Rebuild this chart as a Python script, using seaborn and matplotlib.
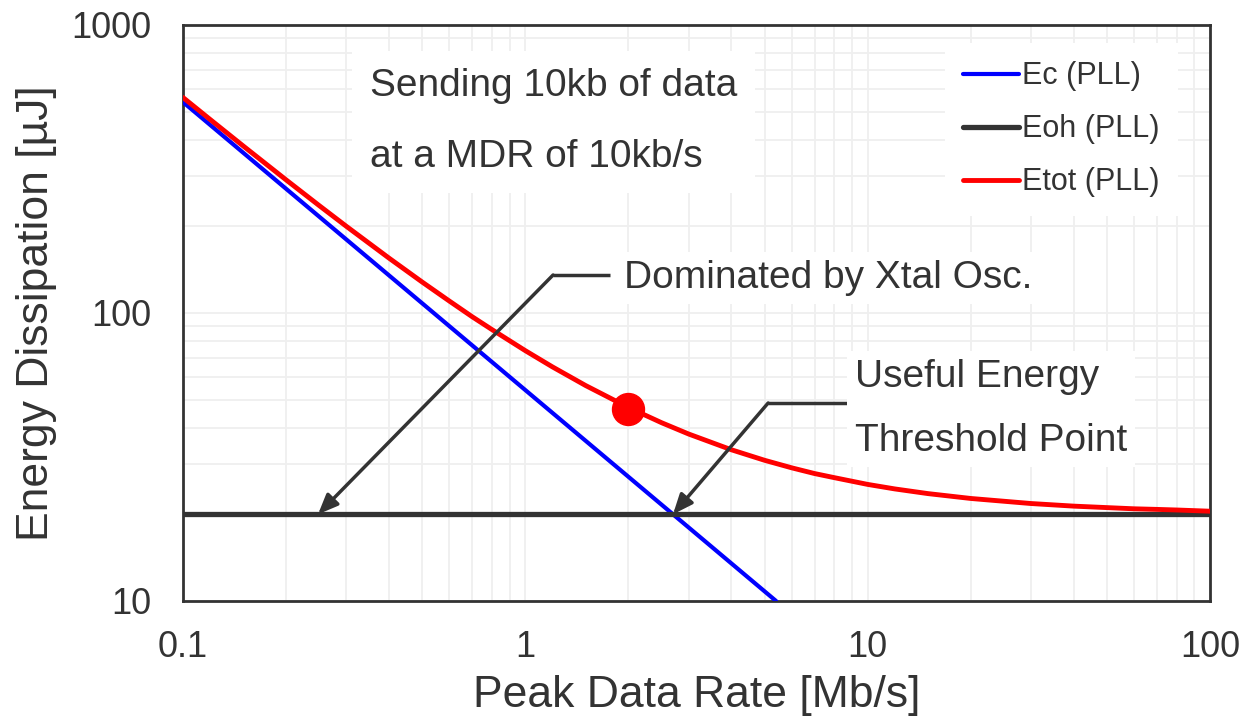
import matplotlib
matplotlib.use("Agg")
import matplotlib.pyplot as plt
import seaborn as sns
import pandas as pd

# Data
ec_x = [0.1, 5.4]
ec_y = [540, 10]
eoh_x = [0.1, 100]
eoh_y = [20, 20]
etot_x = [0.1, 0.12, 0.15, 0.2, 0.25, 0.3, 0.4, 0.5, 0.6, 0.7, 0.8, 1, 1.2, 1.5, 2, 2.5, 3, 4,
          5, 6, 7, 8, 10, 12, 15, 20, 25, 30, 40, 50, 60, 70, 80, 100]
etot_y = [560, 470, 380, 290, 236, 200, 155, 128, 110, 97, 87.5, 74, 65, 56, 47, 41.6, 38, 33.5,
          30.8, 29, 27.7, 26.8, 25.4, 24.5, 23.6, 22.7, 22.2, 21.8, 21.35, 21.1, 20.9, 20.8, 20.7, 20.5]
marker_x = [2.0]
marker_y = [46.5]
series_names = ["Ec (PLL)", "Eoh (PLL)", "Etot (PLL)"]
x_ticks = [0.1, 1, 10, 100]
x_ticklabels = ["0.1", "1", "10", "100"]
y_ticks = [10, 100, 1000]
y_ticklabels = ["10", "100", "1000"]

sns.set_style("white")
plt.rcParams['font.family'] = ['Liberation Sans', 'DejaVu Sans']
TXT = "#333333"

fig = plt.figure(figsize=(12.4, 7.16), dpi=100)
ax = fig.add_axes([183/1240, 1-601/716, (1210-183)/1240, (601-25)/716])

ax.set_xscale("log")
ax.set_yscale("log")
ax.set_xlim(0.1, 100)
ax.set_ylim(10, 1000)

ax.grid(True, which="both", color="#efefef", lw=1.3, zorder=0)
ax.set_axisbelow(True)

df_ec = pd.DataFrame({"x": ec_x, "y": ec_y})
df_eoh = pd.DataFrame({"x": eoh_x, "y": eoh_y})
df_tot = pd.DataFrame({"x": etot_x, "y": etot_y})

sns.lineplot(data=df_ec, x="x", y="y", ax=ax, color="#0000ff", lw=3, label=series_names[0], zorder=3)
sns.lineplot(data=df_eoh, x="x", y="y", ax=ax, color="#333333", lw=3.8, label=series_names[1], zorder=3)
sns.lineplot(data=df_tot, x="x", y="y", ax=ax, color="#ff0000", lw=3.5, label=series_names[2], zorder=4)
ax.plot(marker_x, marker_y, "o", color="#ff0000", ms=23, zorder=5)

for s in ax.spines.values():
    s.set_color(TXT)
    s.set_linewidth(2)
    s.set_visible(True)

ax.set_xticks(x_ticks)
ax.set_xticklabels(x_ticklabels)
ax.set_yticks(y_ticks)
ax.set_yticklabels(y_ticklabels)
ax.tick_params(axis="both", which="major", direction="in", length=9, width=2, color=TXT,
               labelsize=26, labelcolor=TXT)
ax.tick_params(axis="both", which="minor", direction="in", length=6, width=2, color=TXT)
ax.tick_params(axis="x", which="major", pad=21)
ax.tick_params(axis="y", which="major", pad=23)

ax.set_xlabel("Peak Data Rate [Mb/s]", fontsize=32, color=TXT, labelpad=7)
ax.set_ylabel("Energy Dissipation [µJ]", fontsize=32, color=TXT, labelpad=10)

leg = ax.legend(loc="upper right", bbox_to_anchor=(0.984, 0.995), fontsize=22, frameon=True,
                fancybox=False, edgecolor="none", facecolor="white", framealpha=1,
                handlelength=1.85, handletextpad=0.1, labelspacing=0.75, borderpad=0.6)
for t in leg.get_texts():
    t.set_color(TXT)

ax.text(0.182, 0.832, "Sending 10kb of data\nat a MDR of 10kb/s", transform=ax.transAxes,
        fontsize=28, color=TXT, ha="left", va="center", linespacing=2.25,
        bbox=dict(boxstyle="square,pad=0.45", fc="white", ec="none"), zorder=6)

# Annotation 1
ax.annotate("", xy=(0.248, 20), xytext=(1.205, 135.5),
            arrowprops=dict(arrowstyle="-|>,head_length=1.2,head_width=0.5", color=TXT, lw=2.5,
                            shrinkA=0, shrinkB=0), zorder=6)
ax.plot([1.205, 1.77], [135.5, 135.5], color=TXT, lw=2.5, zorder=6, solid_capstyle="butt")
ax.text(1.94, 132, "Dominated by Xtal Osc.", fontsize=28, color=TXT, ha="left", va="center",
        bbox=dict(boxstyle="square,pad=0.2", fc="white", ec="none"), zorder=6)

# Annotation 2
ax.annotate("", xy=(2.7, 20), xytext=(5.12, 48.7),
            arrowprops=dict(arrowstyle="-|>,head_length=1.2,head_width=0.5", color=TXT, lw=2.5,
                            shrinkA=0, shrinkB=0), zorder=6)
ax.plot([5.12, 8.77], [48.7, 48.7], color=TXT, lw=2.5, zorder=6, solid_capstyle="butt")
ax.text(9.18, 46.5, "Useful Energy\nThreshold Point", fontsize=28, color=TXT, ha="left", va="center",
        linespacing=2.0, bbox=dict(boxstyle="square,pad=0.2", fc="white", ec="none"), zorder=6)

fig.savefig("out.png", dpi=100)
